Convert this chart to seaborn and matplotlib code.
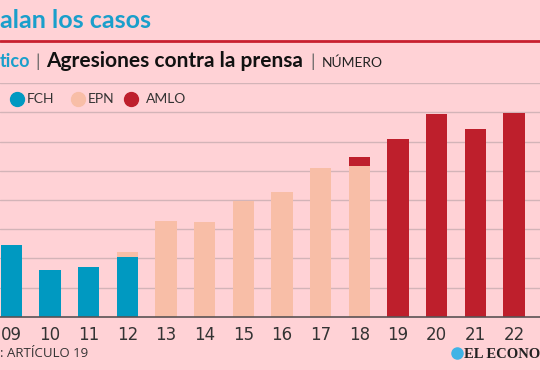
# ---- import packages ---- #
import pandas as pd
import numpy as np
import matplotlib
matplotlib.use('Agg')
import matplotlib.pyplot as plt
from matplotlib.lines import Line2D
import seaborn as sns


# ---- data ---- #
years = ['09', '10', '11', '12', '13', '14', '15', '16', '17', '18', '19', '20', '21', '22']
fch = [244, 161, 169, 204, 0, 0, 0, 0, 0, 0, 0, 0, 0, 0]
epn = [0, 0, 0, 17, 329, 323, 397, 428, 508, 518, 0, 0, 0, 0]
amlo = [0, 0, 0, 0, 0, 0, 0, 0, 0, 28, 609, 693, 644, 699]
legend_labels = ['FCH', 'EPN', 'AMLO']

# ---- colours ---- #
bg = '#ffd2d6'
c_fch = '#0099c1'
c_epn = '#f8bea7'
c_amlo = '#be1f2c'
c_title = '#1a9fcb'

df = pd.DataFrame({'year': years, 'FCH': fch, 'EPN': epn, 'AMLO': amlo})
df['fch_epn'] = df['FCH'] + df['EPN']
df['total'] = df['fch_epn'] + df['AMLO']

sns.set_style('white')
plt.rcParams['font.family'] = ['Lato', 'DejaVu Sans']

W, H = 540, 370
fig = plt.figure(figsize=(W / 100, H / 100), dpi=100, facecolor=bg)


def px(x, y):
    # pixel coords (from top-left) -> figure fraction
    return x / W, 1 - y / H


# ---- axes: bottom at 0 baseline, top at 800 gridline ---- #
ax = fig.add_axes([0, 1 - 316.7 / H, 1, (316.7 - 83.2) / H])
ax.set_facecolor(bg)

# stacked bars, drawn from the top segment down
for col, c in [('total', c_amlo), ('fch_epn', c_epn), ('FCH', c_fch)]:
    sns.barplot(data=df, x='year', y=col, order=years, color=c, width=0.55,
                saturation=1, linewidth=0, ax=ax, zorder=2)

ax.set_xlim(-0.295, 13.67)
ax.set_ylim(0, 800)
ax.set_yticks(np.arange(100, 801, 100))
ax.yaxis.grid(True, color='#d3b4b8', linewidth=1, zorder=0)
ax.set_axisbelow(True)
ax.tick_params(axis='y', left=False, labelleft=False)
ax.tick_params(axis='x', bottom=False, pad=3, labelsize=12, labelcolor='#333333')
for lab in ax.get_xticklabels():
    lab.set_family(['Liberation Sans Narrow', 'DejaVu Sans'])
ax.set_xlabel('')
ax.set_ylabel('')
for s in ['top', 'right', 'left']:
    ax.spines[s].set_visible(False)
ax.spines['bottom'].set_color('#5a5254')
ax.spines['bottom'].set_linewidth(1.2)
ax.spines['bottom'].set_zorder(3)

# ---- header ---- #
fig.text(*px(0, 28), 'alan los casos', color=c_title, fontsize=18, fontweight='bold',
         va='baseline', ha='left')
fig.add_artist(Line2D([0, 1], [1 - 41 / H] * 2, color='#c8202f', linewidth=2))

fig.text(*px(0, 67), 'tico', color=c_title, fontsize=13, fontweight='bold', va='baseline')
fig.text(*px(35, 67), '|', color='#666666', fontsize=13, va='baseline')
fig.text(*px(46, 67), 'Agresiones contra la prensa', color='#111111', fontsize=15,
         fontweight='bold', va='baseline')
fig.text(*px(310, 67), '|', color='#666666', fontsize=13, va='baseline')
fig.text(*px(322, 67), 'NÚMERO', color='#222222', fontsize=10, va='baseline')

# ---- legend ---- #
leg_x = [17, 78, 131]
leg_tx = [27, 88, 146]
for lx, tx, lab, col in zip(leg_x, leg_tx, legend_labels, [c_fch, c_epn, c_amlo]):
    fig.add_artist(Line2D([lx / W], [1 - 98.5 / H], marker='o', markersize=10,
                          color=col, linestyle=''))
    fig.text(*px(tx, 103.5), lab, color='#333333', fontsize=10, va='baseline')

# ---- footer ---- #
fig.text(*px(0, 357), ': ARTÍCULO 19', color='#333333', fontsize=9.5,
         family=['Open Sans', 'DejaVu Sans'], va='baseline')
fig.add_artist(Line2D([457 / W], [1 - 353 / H], marker='o', markersize=8,
                      color='#3fb3e6', linestyle=''))
fig.text(*px(464, 357.5), 'EL ECONO', color='#222222', fontsize=10.5,
         fontweight='bold', family=['Liberation Serif', 'DejaVu Serif'], va='baseline')

fig.savefig('out.png', dpi=100, facecolor=bg)
